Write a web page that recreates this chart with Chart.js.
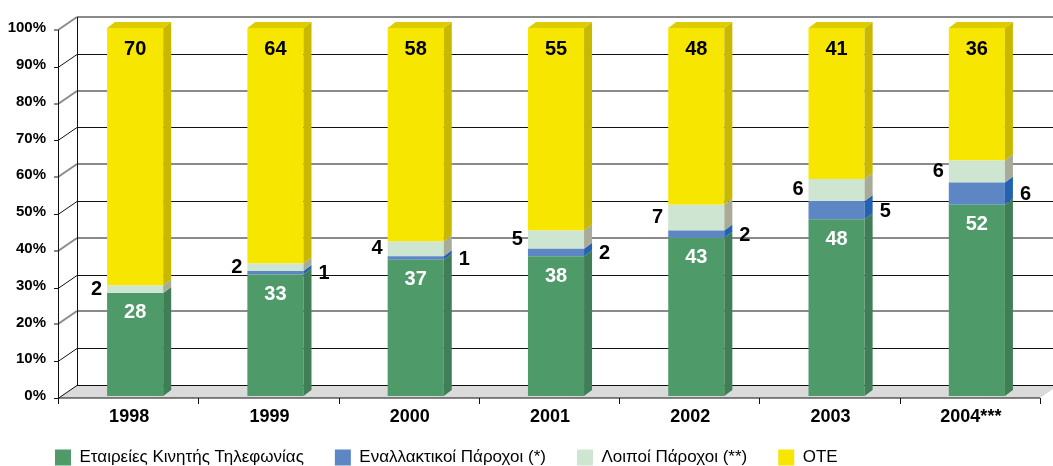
<!DOCTYPE html>
<html lang="el">
<head>
<meta charset="utf-8">
<title>Μερίδια αγοράς</title>
<script src="https://cdn.jsdelivr.net/npm/chart.js@4.4.1/dist/chart.umd.min.js"></script>
<style>
    html, body { margin: 0; padding: 0; background: #fff; }
    #wrap { width: 1053px; height: 466px; position: relative; }
</style>
</head>
<body>
<div id="wrap"><canvas id="shareChart"></canvas></div>
<script>
// Données (en %)
const years = ['1998', '1999', '2000', '2001', '2002', '2003', '2004***'];
const mobile = [28, 33, 37, 38, 43, 48, 52];
const altProviders = [0, 1, 1, 2, 2, 5, 6];
const otherProviders = [2, 2, 4, 5, 7, 6, 6];
const ote = [70, 64, 58, 55, 48, 41, 36];

const seriesNames = ['Εταιρείες Κινητής Τηλεφωνίας', 'Εναλλακτικοί Πάροχοι (*)', 'Λοιποί Πάροχοι (**)', 'ΟΤΕ'];
const frontColors = ['#4f9a69', '#5d87c4', '#cde5d1', '#f6e600'];
const sideColors = ['#3f7e56', '#2461b0', '#a9ab99', '#c8b800'];

const FONT = "'Liberation Sans', Arial, sans-serif";

// Décalages de la perspective (plan avant, plan arrière, profondeur des barres)
const FX = -7, FY = 2, BX = 12, BY = -11, DX = 8, DY = -6;

// Fond 3D : sol, murs, grille
const backdrop = {
    id: 'backdrop',
    beforeLayout(chart) {
        const legend = chart.legend;
        if (legend && !legend._patched) {
            const fit = legend.fit;
            legend.fit = function () { fit.call(this); this.height = 36; };
            legend._patched = true;
        }
    },
    afterLayout(chart) {
        // légende calée comme sur l'original
        chart.legend.left = 24;
        chart.legend.top = 418;
    },
    beforeDatasetsDraw(chart) {
        const { ctx, chartArea: a, scales: { x, y } } = chart;
        const y0 = y.getPixelForValue(0), y100 = y.getPixelForValue(100);
        ctx.save();
        // sol
        ctx.fillStyle = '#dadada';
        ctx.beginPath();
        ctx.moveTo(a.left + FX, y0 + FY);
        ctx.lineTo(a.right + FX, y0 + FY);
        ctx.lineTo(a.right + BX, y0 + BY);
        ctx.lineTo(a.left + BX, y0 + BY);
        ctx.closePath();
        ctx.fill();

        for (let v = 0; v <= 100; v += 10) {
            const py = y.getPixelForValue(v);
            const odd = (v / 10) % 2 === 1 || v === 0;
            ctx.strokeStyle = odd ? '#111' : '#8a8a8a';
            ctx.lineWidth = odd ? 1 : 2;
            const yb = Math.round(py + BY) + (odd ? 0.5 : 0);
            const yf = Math.round(py + FY) + (odd ? 0.5 : 0);
            ctx.beginPath();
            ctx.moveTo(a.left + BX, yb);
            ctx.lineTo(a.right + BX, yb);
            ctx.moveTo(a.left + FX, yf);
            ctx.lineTo(a.left + BX, yb);
            ctx.moveTo(a.left + FX - 4, yf);
            ctx.lineTo(a.left + FX, yf);
            ctx.stroke();
        }
        ctx.strokeStyle = '#111';
        ctx.lineWidth = 1;
        ctx.beginPath();
        ctx.moveTo(a.left + BX + 0.5, y100 + BY);
        ctx.lineTo(a.left + BX + 0.5, y0 + BY);
        ctx.moveTo(a.left + FX + 0.5, y100 + FY);
        ctx.lineTo(a.left + FX + 0.5, y0 + FY);
        ctx.lineTo(a.right + FX, y0 + FY);
        ctx.stroke();

        // graduations de l'axe des catégories
        const step = x.getPixelForValue(1) - x.getPixelForValue(0);
        ctx.beginPath();
        for (let i = 0; i <= years.length; i++) {
            const px = Math.round(x.getPixelForValue(0) - step / 2 + i * step + FX) + 0.5;
            ctx.moveTo(px, y0 + FY);
            ctx.lineTo(px, y0 + FY + 6);
        }
        ctx.stroke();
        ctx.restore();
    },
    afterDatasetsDraw(chart) {
        const { ctx } = chart;
        ctx.save();
        // faces latérales et dessus
        chart.data.datasets.forEach((ds, di) => {
            const meta = chart.getDatasetMeta(di);
            meta.data.forEach(bar => {
                const right = bar.x + bar.width / 2, left = bar.x - bar.width / 2;
                if (Math.abs(bar.base - bar.y) < 0.1) return;
                ctx.fillStyle = sideColors[di];
                ctx.beginPath();
                ctx.moveTo(right, bar.y);
                ctx.lineTo(right + DX, bar.y + DY);
                ctx.lineTo(right + DX, bar.base + DY);
                ctx.lineTo(right, bar.base);
                ctx.closePath();
                ctx.fill();
                if (di === chart.data.datasets.length - 1) {
                    ctx.fillStyle = '#dccc00';
                    ctx.beginPath();
                    ctx.moveTo(left, bar.y);
                    ctx.lineTo(left + DX, bar.y + DY);
                    ctx.lineTo(right + DX, bar.y + DY);
                    ctx.lineTo(right, bar.y);
                    ctx.closePath();
                    ctx.fill();
                }
            });
        });

        // étiquettes des valeurs
        ctx.font = 'bold 20px ' + FONT;
        ctx.textBaseline = 'middle';
        chart.data.datasets.forEach((ds, di) => {
            const meta = chart.getDatasetMeta(di);
            meta.data.forEach((bar, i) => {
                const v = ds.data[i];
                if (!v) return;
                const right = bar.x + bar.width / 2, left = bar.x - bar.width / 2;
                const mid = (bar.y + bar.base) / 2;
                if (di === 0) {
                    ctx.fillStyle = '#fff';
                    ctx.textAlign = 'center';
                    ctx.fillText(v, bar.x, bar.y + 20);
                } else if (di === 1) {
                    ctx.fillStyle = '#000';
                    ctx.textAlign = 'left';
                    ctx.fillText(v, right + DX + 7, mid + 1);
                } else if (di === 2) {
                    ctx.fillStyle = '#000';
                    ctx.textAlign = 'right';
                    ctx.fillText(v, left - 5, mid);
                } else {
                    ctx.fillStyle = '#000';
                    ctx.textAlign = 'center';
                    ctx.fillText(v, bar.x, bar.y + 21);
                }
            });
        });
        ctx.restore();
    }
};

const seriesValues = [mobile, altProviders, otherProviders, ote];

new Chart(document.getElementById('shareChart').getContext('2d'), {
    type: 'bar',
    data: {
        labels: years,
        datasets: seriesValues.map((values, i) => ({
            label: seriesNames[i],
            data: values,
            backgroundColor: frontColors[i],
            borderWidth: 0,
            categoryPercentage: 1,
            barPercentage: 0.4
        }))
    },
    options: {
        responsive: true,
        maintainAspectRatio: false,
        animation: false,
        layout: { padding: { top: 27, right: 6, left: 0, bottom: 0 } },
        scales: {
            x: {
                stacked: true,
                grid: { display: false },
                border: { display: false },
                ticks: {
                    color: '#000',
                    padding: 2,
                    labelOffset: -6,
                    font: { family: FONT, size: 18, weight: 'bold' }
                },
                afterFit(scale) { scale.height = 34; }
            },
            y: {
                stacked: true,
                min: 0,
                max: 100,
                grid: { display: false, drawTicks: false },
                border: { display: false },
                ticks: {
                    stepSize: 10,
                    color: '#000',
                    padding: 19,
                    font: { family: FONT, size: 15, weight: 'bold' },
                    callback: v => v + '%'
                },
                afterFit(scale) { scale.width = 65; }
            }
        },
        plugins: {
            legend: {
                display: true,
                position: 'bottom',
                align: 'start',
                labels: {
                    color: '#000',
                    boxWidth: 16,
                    boxHeight: 16,
                    padding: 31,
                    font: { family: FONT, size: 17 }
                }
            },
            tooltip: { enabled: false }
        }
    },
    plugins: [backdrop]
});
</script>
</body>
</html>
